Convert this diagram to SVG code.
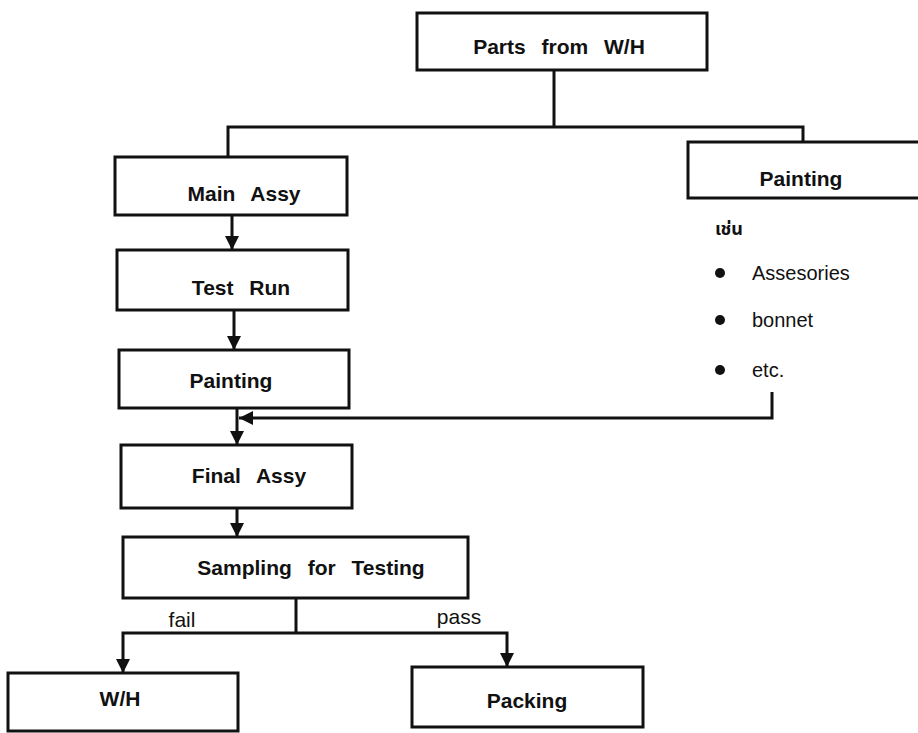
<svg xmlns="http://www.w3.org/2000/svg" width="918" height="733" viewBox="0 0 918 733">
<style>
.box{fill:#fff;stroke:#111;stroke-width:3}
.lbl{font-family:"Liberation Sans",Arial,sans-serif;font-weight:bold;font-size:21px;fill:#111;text-anchor:middle;word-spacing:10px}
.sm{font-family:"Liberation Sans",Arial,sans-serif;font-size:20px;fill:#111}
.edge{font-family:"Liberation Sans",Arial,sans-serif;font-size:21px;fill:#111;text-anchor:middle}
.ln{fill:none;stroke:#111;stroke-width:3}
</style>
<defs>
<marker id="ah" markerUnits="userSpaceOnUse" markerWidth="16" markerHeight="16" refX="14" refY="7" orient="auto">
<path d="M0,0 L14,7 L0,14 Z" fill="#111"/>
</marker>
</defs>
<rect width="918" height="733" fill="#fff"/>
<g id="connectors">
<path class="ln" d="M554,70 V127"/>
<path class="ln" d="M228,157 V127 H803 V142"/>
<path class="ln" d="M232,215 V250" marker-end="url(#ah)"/>
<path class="ln" d="M234,310 V350" marker-end="url(#ah)"/>
<path class="ln" d="M237,408 V445" marker-end="url(#ah)"/>
<path class="ln" d="M772,392 V418 H239" marker-end="url(#ah)"/>
<path class="ln" d="M237,508 V537" marker-end="url(#ah)"/>
<path class="ln" d="M296,598 V633"/>
<path class="ln" d="M296,633 H123 V673" marker-end="url(#ah)"/>
<path class="ln" d="M296,633 H507 V667" marker-end="url(#ah)"/>
<text class="edge" x="182" y="627">fail</text>
<text class="edge" x="459" y="624">pass</text>
</g>
<g id="parts">
<rect class="box" x="417" y="13" width="290" height="57"/>
<text class="lbl" x="559" y="54">Parts from W/H</text>
</g>
<g id="main-assy">
<rect class="box" x="115" y="157" width="232" height="58"/>
<text class="lbl" x="244" y="201">Main Assy</text>
</g>
<g id="test-run">
<rect class="box" x="117" y="250" width="231" height="60"/>
<text class="lbl" x="241" y="295">Test Run</text>
</g>
<g id="painting-main">
<rect class="box" x="119" y="350" width="230" height="58"/>
<text class="lbl" x="231" y="388">Painting</text>
</g>
<g id="painting-side">
<rect class="box" x="688" y="142" width="240" height="56"/>
<text class="lbl" x="801" y="186">Painting</text>
<text class="sm" x="715" y="235" style="font-family:'Noto Sans Thai','Noto Sans','DejaVu Sans',sans-serif;font-size:18px;font-weight:bold">เช่น</text>
<circle cx="720" cy="273" r="5" fill="#111"/>
<circle cx="720" cy="320" r="5" fill="#111"/>
<circle cx="720" cy="370" r="5" fill="#111"/>
<text class="sm" x="752" y="280">Assesories</text>
<text class="sm" x="752" y="327">bonnet</text>
<text class="sm" x="752" y="377">etc.</text>
</g>
<g id="final-assy">
<rect class="box" x="121" y="445" width="231" height="63"/>
<text class="lbl" x="249" y="483">Final Assy</text>
</g>
<g id="sampling">
<rect class="box" x="123" y="537" width="345" height="61"/>
<text class="lbl" x="311" y="575">Sampling for Testing</text>
</g>
<g id="wh">
<rect class="box" x="8" y="673" width="230" height="58"/>
<text class="lbl" x="120" y="706">W/H</text>
</g>
<g id="packing">
<rect class="box" x="412" y="667" width="231" height="60"/>
<text class="lbl" x="527" y="708">Packing</text>
</g>
</svg>
